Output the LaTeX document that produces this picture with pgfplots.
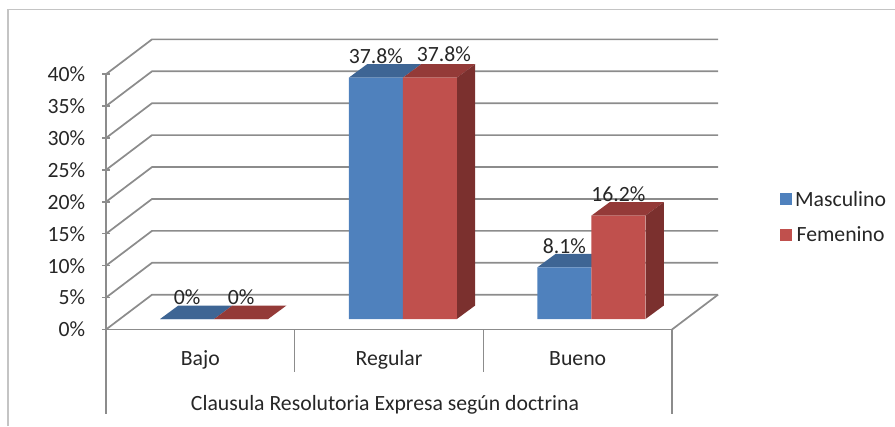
\documentclass[border=0pt]{standalone}
\usepackage{fontspec}
\setmainfont{Carlito}
\usepackage{pgfplots}
\usepackage{pgfplotstable}
\pgfplotsset{compat=1.18}

\definecolor{bluef}{HTML}{4F81BD}
\definecolor{redf}{HTML}{C0504D}
\definecolor{bluet}{HTML}{3E6594}
\definecolor{redt}{HTML}{943A38}
\definecolor{reds}{HTML}{7B302E}
\definecolor{wall}{HTML}{8C8C8C}
\definecolor{frame}{HTML}{C4C4C4}
\definecolor{ink}{HTML}{262626}

% valores del grafico (%)
\pgfplotstableread{
x    masc  fem
0.5  0     0
1.5  37.8  37.8
2.5  8.1   16.2
}\datos

\newcommand{\fs}{\fontsize{16.3}{19}\selectfont}

\begin{document}
\begin{tikzpicture}[x=0.75pt,y=-0.75pt]
\useasboundingbox (0,0) rectangle (895,426);
\draw[frame,line width=1.1pt] (8,426) -- (8,9.5) -- (895,9.5);

% planos del fondo, eje y, categorias
\begin{axis}[
    at={(79.5pt,-247.125pt)}, anchor=south west,
    scale only axis, width=424.5pt, height=191.5pt,
    xmin=0, xmax=3, ymin=0, ymax=40,
    axis lines=left,
    axis line style={wall,line width=1.3pt,-},
    clip=false,
    xtick={0.5,1.5,2.5},
    xticklabels={Bajo,Regular,Bueno},
    x tick style={draw=none},
    major tick length=5.25pt,
    ytick={0,5,...,40},
    y tick style={wall,line width=1.1pt},
    /pgf/number format/assume math mode=true,
    yticklabel={\pgfmathprintnumber{\tick}\%},
    tick label style={font=\fs,text=ink},
    yticklabel style={xshift=-9.5pt},
    xticklabel style={text height=11pt,text depth=3pt,yshift=-9.5pt},
    xlabel={Clausula Resolutoria Expresa según doctrina},
    xlabel style={font=\fs,text=ink,text height=11pt,text depth=3pt,yshift=-13.5pt,xshift=-3pt},
]
\pgfplotsinvokeforeach{0,5,...,40}{
  \draw[wall,line width=1.3pt] (axis cs:0,#1) -- ++(34.5pt,26.1pt) -- ++(424.5pt,0pt);
}
\draw[wall,line width=1.3pt] (axis cs:3,0) -- ++(34.5pt,26.1pt);
\draw[wall,line width=1.3pt] (axis cs:0,0) -- ++(0pt,-63.4pt);
\draw[wall,line width=1.3pt] (axis cs:3,0) -- ++(0pt,-63.4pt);
\draw[wall,line width=1.1pt] (axis cs:1,0) -- ++(0pt,-31.6pt);
\draw[wall,line width=1.1pt] (axis cs:2,0) -- ++(0pt,-31.6pt);
\end{axis}

% barras, en el plano de profundidad media
\begin{axis}[
    at={(89.85pt,-239.25pt)}, anchor=south west,
    scale only axis, width=424.5pt, height=191.5pt,
    xmin=0, xmax=3, ymin=0, ymax=40,
    hide axis, clip=false,
    legend style={at={(1.1665,0.512)},anchor=north west,draw=none,fill=none,
      inner sep=0pt,outer sep=0pt,font=\fs,text=ink,
      row sep=9.6pt,/tikz/every even column/.append style={column sep=5.5pt}},
]
% caras superiores
\addplot[fill=bluet,draw=none,forget plot] coordinates {(0.2135,0)(0.5,0)(0.5971,2.116)(0.3106,2.116)} --cycle;
\addplot[fill=redt,draw=none,forget plot] coordinates {(0.5,0)(0.7865,0)(0.8836,2.116)(0.5971,2.116)} --cycle;
\addplot[fill=bluet,draw=none,forget plot] coordinates {(1.2135,37.8)(1.5,37.8)(1.5971,39.916)(1.3106,39.916)} --cycle;
\addplot[fill=redt,draw=none,forget plot] coordinates {(1.5,37.8)(1.7865,37.8)(1.8836,39.916)(1.5971,39.916)} --cycle;
\addplot[fill=bluet,draw=none,forget plot] coordinates {(2.2135,8.1)(2.5,8.1)(2.5971,10.216)(2.3106,10.216)} --cycle;
\addplot[fill=redt,draw=none,forget plot] coordinates {(2.5,16.2)(2.7865,16.2)(2.8836,18.316)(2.5971,18.316)} --cycle;
% caras laterales
\addplot[fill=reds,draw=none,forget plot] coordinates {(1.7865,0)(1.8836,2.116)(1.8836,39.916)(1.7865,37.8)} --cycle;
\addplot[fill=reds,draw=none,forget plot] coordinates {(2.7865,0)(2.8836,2.116)(2.8836,18.316)(2.7865,16.2)} --cycle;
% caras frontales
\addplot[ybar,bar width=40.5pt,bar shift=-20.25pt,fill=bluef,draw=none,
  legend image code/.code={\fill[bluef] (0pt,-4.5pt) rectangle (9.3pt,4.5pt);}]
  table[x=x,y=masc]{\datos};
\addlegendentry{Masculino}
\addplot[ybar,bar width=40.5pt,bar shift=20.25pt,fill=redf,draw=none,
  legend image code/.code={\fill[redf] (0pt,-4.5pt) rectangle (9.3pt,4.5pt);}]
  table[x=x,y=fem]{\datos};
\addlegendentry{Femenino}
% etiquetas
\begin{scope}[every node/.style={font=\fs,text=ink,inner sep=0pt}]
\node at (axis cs:0.3568,0) [yshift=16pt] {0\%};
\node at (axis cs:0.6432,0) [yshift=16pt] {0\%};
\node at (axis cs:1.3568,37.8) [yshift=16pt] {37.8\%};
\node at (axis cs:1.6432,37.8) [yshift=18pt,xshift=10.5pt] {37.8\%};
\node at (axis cs:2.3568,8.1) [yshift=16pt] {8.1\%};
\node at (axis cs:2.6432,16.2) [yshift=16pt] {16.2\%};
\end{scope}
\end{axis}
\end{tikzpicture}
\end{document}
